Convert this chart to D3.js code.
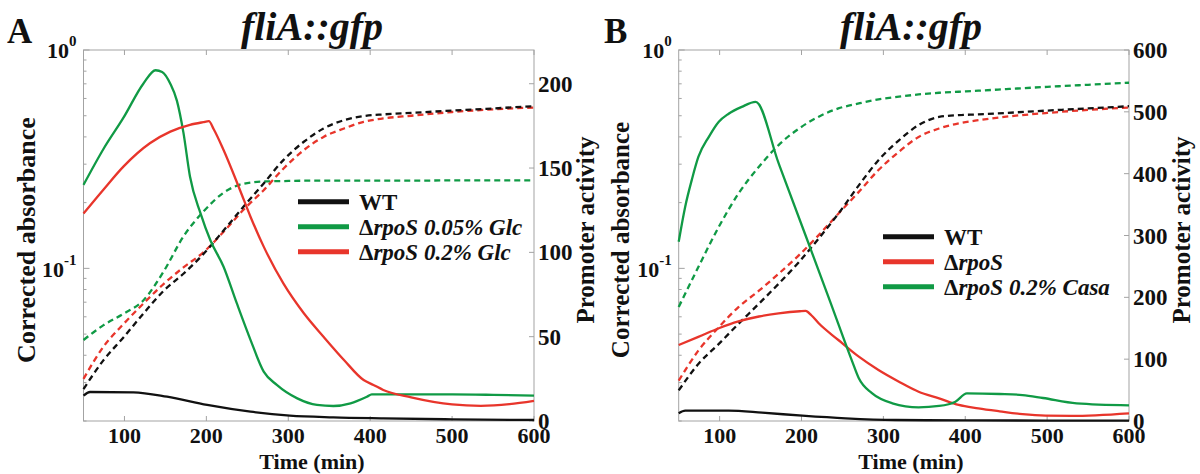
<!DOCTYPE html>
<meta charset="utf-8">
<head>
  <meta charset="utf-8">
  <title>fliA::gfp promoter activity</title>
</head>
<style>
body { margin: 0; background: #fff; }
svg text { font-family: 'Liberation Serif', 'Times New Roman', serif; font-weight: bold; fill: #111; }
.frame { fill: none; stroke: #a3a3a3; stroke-width: 1; }
.tick { stroke: #a3a3a3; stroke-width: 1; }
</style>
<body>
<div id="chart"></div>

<script src="https://cdnjs.cloudflare.com/ajax/libs/d3/7.8.5/d3.min.js"></script>
<script>

// time grid used for the absorbance (dashed) curves
var odTime = [50, 74, 99, 123, 148, 172, 197, 221, 245, 270, 294, 319, 343, 368, 392, 416, 450, 500, 550, 600]

// ---- panel A : absorbance (left log axis) ----
var wtA_od  = [0.028, 0.0378, 0.0484, 0.062, 0.079, 0.0945, 0.117, 0.149, 0.191, 0.245, 0.313, 0.380, 0.437, 0.477, 0.498, 0.507, 0.515, 0.528, 0.540, 0.553]
var glc05A_od = [0.047, 0.0548, 0.062, 0.0713, 0.097, 0.14, 0.183, 0.222, 0.244, 0.25, 0.251, 0.252, 0.252, 0.252, 0.252, 0.252, 0.252, 0.253, 0.253, 0.253]
var glc2A_od  = [0.0312, 0.0436, 0.0557, 0.0689, 0.085, 0.101, 0.119, 0.147, 0.185, 0.228, 0.286, 0.348, 0.40, 0.437, 0.469, 0.486, 0.50, 0.52, 0.535, 0.545]

// ---- panel A : promoter activity (right axis) ----
var wtA_time = [50, 58, 111, 152, 201, 254, 302, 355, 416, 500, 600]
var wtA_pa   = [15, 17.2, 17, 14.4, 9.5, 5.5, 3.2, 2.2, 1.6, 1.0, 0.6]
var glc05A_time = [50, 74, 99, 123, 138, 146, 156, 164, 172, 180, 193, 205, 221, 237, 254, 270, 286, 311, 335, 355, 376, 396, 402, 450, 500, 550, 600]
var glc05A_pa   = [140, 161, 180, 200, 208, 207, 200, 190, 171, 145, 123, 107, 91.5, 70, 48, 29.3, 21.4, 13.4, 9.5, 8.9, 10.5, 14.4, 15.8, 15.8, 15.8, 15.5, 15]
var glc2A_time = [50, 74, 99, 131, 156, 180, 196, 203, 209, 221, 241, 254, 270, 294, 319, 343, 368, 392, 404, 416, 450, 500, 535, 570, 600]
var glc2A_pa   = [123, 137, 151, 164.7, 171.6, 175.6, 177.2, 177.8, 173, 160.7, 137, 121, 103.4, 81.6, 63.9, 50, 36.2, 24.3, 21.4, 18.4, 14, 9.8, 9.0, 10, 12]

// ---- panel B : absorbance ----
var wtB_od   = [0.0276, 0.0365, 0.0451, 0.0557, 0.0689, 0.085, 0.107, 0.137, 0.178, 0.240, 0.313, 0.386, 0.453, 0.494, 0.503, 0.507, 0.515, 0.528, 0.540, 0.553]
var rpoSB_od = [0.0306, 0.042, 0.0538, 0.0665, 0.079, 0.0945, 0.115, 0.142, 0.178, 0.224, 0.282, 0.342, 0.40, 0.437, 0.461, 0.477, 0.495, 0.515, 0.532, 0.545]
var casaB_od = [0.0665, 0.1014, 0.155, 0.220, 0.292, 0.367, 0.437, 0.495, 0.540, 0.569, 0.594, 0.611, 0.626, 0.637, 0.644, 0.651, 0.662, 0.678, 0.693, 0.708]

// ---- panel B : promoter activity ----
var wtB_time = [50, 58, 111, 152, 201, 254, 315, 400, 500, 600]
var wtB_pa   = [12.4, 16.7, 16.7, 13.5, 8.6, 4.3, 1.6, 1.0, 0.7, 0.5]
var rpoSB_time = [50, 74, 99, 123, 148, 172, 198, 205, 212, 221, 245, 270, 294, 319, 343, 368, 392, 416, 442, 470, 498, 530, 600]
var rpoSB_pa   = [123, 136, 150, 161, 169, 174, 177.5, 178, 171, 158, 131, 104, 82.5, 63.6, 47.4, 36.7, 25.9, 20.5, 15.7, 11, 8.6, 8.2, 12.4]
var casaB_time = [50, 58, 66, 74, 87, 99, 111, 127, 144, 172, 205, 235, 262, 270, 286, 311, 343, 368, 388, 402, 442, 470, 495, 536, 600]
var casaB_pa   = [290, 347, 390, 427, 460, 484, 497, 508, 516, 417, 300, 193, 96, 69, 45, 28.6, 22.1, 24.3, 31.3, 44.7, 43.7, 42, 37.2, 28.6, 25.4]

var xTicks = [100, 200, 300, 400, 500, 600]
var paTicksA = [0, 50, 100, 150, 200]
var paTicksB = [0, 100, 200, 300, 400, 500, 600]

var BLACK = '#111111', GREEN = '#109a45', RED = '#e8352b'

var width = 1200
var height = 474

var svg = d3.select('#chart').append('svg')
    .attr('width', width)
    .attr('height', height)

function zip(t, v) { return t.map(function (d, i) { return [d, v[i]] }) }

// draws one panel; box = plot area in pixels
function panel(opt) {
    var b = opt.box
    var x = d3.scaleLinear().domain([50, 600]).range([b.left, b.right])
    var yOd = d3.scaleLog().domain([0.02, 1]).range([b.bottom, b.top])
    var yPa = d3.scaleLinear().domain([0, opt.paMax]).range([b.bottom, b.top])
    var g = svg.append('g')

    g.append('rect').attr('class', 'frame')
        .attr('x', b.left).attr('y', b.top)
        .attr('width', b.right - b.left).attr('height', b.bottom - b.top)

    // x ticks bottom and top (inward)
    xTicks.forEach(function (t) {
        g.append('line').attr('class', 'tick')
            .attr('x1', x(t)).attr('x2', x(t)).attr('y1', b.bottom).attr('y2', b.bottom - 5)
        g.append('line').attr('class', 'tick')
            .attr('x1', x(t)).attr('x2', x(t)).attr('y1', b.top).attr('y2', b.top + 5)
        g.append('text').attr('x', x(t)).attr('y', b.bottom + 22)
            .attr('text-anchor', 'middle').style('font-size', '22px').text(t)
    })

    // log ticks on the left
    yOd.ticks().forEach(function (v) {
        var major = Math.abs(Math.log10(v) - Math.round(Math.log10(v))) < 1e-6
        g.append('line').attr('class', 'tick')
            .attr('x1', b.left).attr('x2', b.left + (major ? 6 : 3))
            .attr('y1', yOd(v)).attr('y2', yOd(v))
    })
    ;[[1, '0'], [0.1, '-1']].forEach(function (p) {
        var t = g.append('text').attr('x', b.left - 7).attr('y', yOd(p[0]) + (p[0] === 1 ? 8 : 9))
            .attr('text-anchor', 'end').style('font-size', '22px')
        t.append('tspan').text('10')
        t.append('tspan').attr('dy', -12).style('font-size', '15px').text(p[1])
    })

    // right axis ticks
    opt.paTicks.forEach(function (v) {
        g.append('line').attr('class', 'tick')
            .attr('x1', b.right).attr('x2', b.right - 5)
            .attr('y1', yPa(v)).attr('y2', yPa(v))
        g.append('text').attr('x', b.right + 4).attr('y', yPa(v) + 8)
            .style('font-size', '23px').text(v)
    })

    // absorbance curves (dashed)
    var lineOd = d3.line().curve(d3.curveMonotoneX)
        .x(function (d) { return x(d[0]) }).y(function (d) { return yOd(d[1]) })
    opt.od.forEach(function (s) {
        g.append('path').attr('d', lineOd(zip(odTime, s.v)))
            .attr('fill', 'none').attr('stroke', s.c).attr('stroke-width', 2.3)
            .attr('stroke-dasharray', '6,4')
    })

    // promoter activity (solid)
    var linePa = d3.line().curve(d3.curveMonotoneX)
        .x(function (d) { return x(d[0]) }).y(function (d) { return yPa(d[1]) })
    opt.pa.forEach(function (s) {
        g.append('path').attr('d', linePa(zip(s.t, s.v)))
            .attr('fill', 'none').attr('stroke', s.c).attr('stroke-width', 2.3)
    })

    // legend
    opt.legend.forEach(function (s, i) {
        var ly = opt.legendPos[1] + i * 25
        g.append('line').attr('x1', opt.legendPos[0]).attr('x2', opt.legendPos[0] + 51)
            .attr('y1', ly).attr('y2', ly).attr('stroke', s.c).attr('stroke-width', 5)
        var t = g.append('text').attr('x', opt.legendPos[0] + 61).attr('y', ly + 8)
            .style('font-size', '23px')
        if (s.name === 'WT') t.text('WT')
        else {
            t.append('tspan').text('\u0394')
            t.append('tspan').style('font-style', 'italic').text(s.name)
        }
    })

    // labels
    g.append('text').attr('x', opt.title[0]).attr('y', 40).attr('text-anchor', 'middle')
        .style('font-size', '40px').style('font-style', 'italic').text('fliA::gfp')
    g.append('text').attr('x', opt.letter[0]).attr('y', 43).style('font-size', '35px').text(opt.letter[1])
    g.append('text').attr('x', opt.title[0]).attr('y', 469).attr('text-anchor', 'middle')
        .style('font-size', '22px').text('Time (min)')
    g.append('text').attr('transform', 'translate(' + opt.yLab[0] + ',240) rotate(-90)')
        .attr('text-anchor', 'middle').style('font-size', opt.yLab[2] + 'px').text('Corrected absorbance')
    g.append('text').attr('transform', 'translate(' + opt.yLab[1] + ',230) rotate(-90)')
        .attr('text-anchor', 'middle').style('font-size', '25px').text('Promoter activity')
}

panel({
    box: { left: 83.5, right: 534, top: 50, bottom: 421 },
    paMax: 220, paTicks: paTicksA,
    od: [{ v: glc05A_od, c: GREEN }, { v: glc2A_od, c: RED }, { v: wtA_od, c: BLACK }],
    pa: [{ t: wtA_time, v: wtA_pa, c: BLACK }, { t: glc05A_time, v: glc05A_pa, c: GREEN }, { t: glc2A_time, v: glc2A_pa, c: RED }],
    legend: [{ name: 'WT', c: BLACK }, { name: 'rpoS 0.05% Glc', c: GREEN }, { name: 'rpoS 0.2% Glc', c: RED }],
    legendPos: [298, 201.7],
    title: [312], letter: [7, 'A'], yLab: [35, 594, 26]
})

panel({
    box: { left: 678.7, right: 1129, top: 50, bottom: 421 },
    paMax: 600, paTicks: paTicksB,
    od: [{ v: casaB_od, c: GREEN }, { v: rpoSB_od, c: RED }, { v: wtB_od, c: BLACK }],
    pa: [{ t: wtB_time, v: wtB_pa, c: BLACK }, { t: rpoSB_time, v: rpoSB_pa, c: RED }, { t: casaB_time, v: casaB_pa, c: GREEN }],
    legend: [{ name: 'WT', c: BLACK }, { name: 'rpoS', c: RED }, { name: 'rpoS 0.2% Casa', c: GREEN }],
    legendPos: [883, 236.7],
    title: [911], letter: [604, 'B'], yLab: [629, 1190, 25]
})
</script>
</body>
